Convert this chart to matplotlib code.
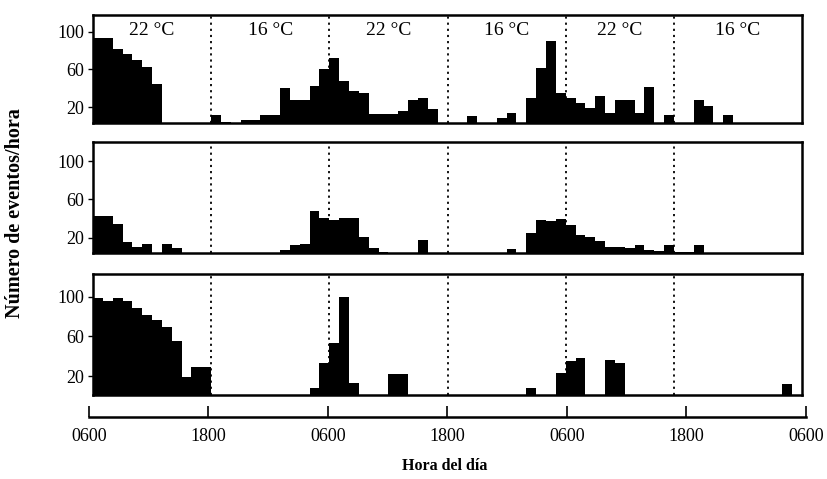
import matplotlib.pyplot as plt

plt.rcParams['font.family'] = ['Liberation Serif', 'DejaVu Serif']

# one bin per hour, starting at 0600 of day 1
hours = list(range(72))

top_counts = [93, 93, 82, 77, 70, 63, 45, 0, 0, 0, 0, 0,
              12, 4, 3, 6, 6, 12, 12, 40, 27, 28, 42, 60,
              72, 48, 37, 35, 13, 13, 13, 16, 28, 30, 18, 2,
              0, 0, 10, 3, 3, 8, 14, 3, 30, 62, 90, 35,
              30, 24, 19, 32, 14, 28, 27, 14, 41, 3, 12, 2,
              0, 27, 21, 0, 12, 0, 0, 0, 0, 0, 0, 0]

mid_counts = [43, 43, 34, 16, 10, 13, 4, 13, 9, 3, 0, 0,
              0, 0, 0, 0, 0, 0, 4, 7, 12, 13, 48, 41,
              39, 41, 41, 21, 9, 5, 4, 4, 4, 18, 0, 0,
              0, 0, 0, 0, 0, 0, 8, 4, 25, 39, 37, 40,
              33, 23, 21, 17, 10, 10, 9, 12, 7, 6, 12, 5,
              5, 12, 0, 0, 0, 0, 0, 0, 0, 0, 0, 0]

bot_counts = [99, 96, 99, 96, 89, 82, 77, 70, 55, 19, 29, 29,
              0, 0, 0, 0, 0, 0, 0, 0, 0, 0, 8, 33,
              53, 100, 13, 0, 0, 0, 22, 22, 0, 0, 0, 0,
              0, 0, 0, 0, 0, 0, 0, 0, 8, 0, 0, 23,
              35, 38, 0, 0, 36, 33, 0, 0, 0, 0, 0, 0,
              0, 0, 0, 0, 0, 0, 0, 0, 0, 0, 12, 0]

temp_labels = ['22 °C', '16 °C', '22 °C', '16 °C', '22 °C', '16 °C']
temp_changes = [12, 24, 36, 48, 59]
tick_hours = [0, 12, 24, 36, 48, 60, 72]
tick_labels = ['0600', '1800', '0600', '1800', '0600', '1800', '0600']
y_ticks = [20, 60, 100]

W, H = 828, 479
fig = plt.figure(figsize=(W / 100, H / 100), dpi=100)

# panel boxes in pixels: (top, bottom)
boxes = [(15, 123), (142, 253), (274, 395)]
left, right = 93, 802
series = [top_counts, mid_counts, bot_counts]
ylims = [(3, 118), (4, 120), (1, 123)]

for i, (counts, (t, b)) in enumerate(zip(series, boxes)):
    ax = fig.add_axes([left / W, 1 - b / H, (right - left) / W, (b - t) / H])
    ax.bar(hours, counts, width=1, align='edge', color='black', linewidth=0)
    for h in temp_changes:
        ax.axvline(h, color='black', linestyle=(0, (1.2, 2.2)), linewidth=1.3)
    ax.set_xlim(0, 72)
    ax.set_ylim(*ylims[i])
    ax.set_yticks(y_ticks)
    ax.set_xticks([])
    ax.tick_params(axis='y', direction='out', length=3.5, width=1, pad=3, labelsize=13)
    for s in ax.spines.values():
        s.set_linewidth(1.8)
    if i == 0:
        starts = [0] + temp_changes
        ends = temp_changes + [72]
        for lab, a, e in zip(temp_labels, starts, ends):
            ax.text((a + e) / 2, 0.86, lab, transform=ax.get_xaxis_transform(),
                    ha='center', va='center', fontsize=14)

# separate time axis under the panels
axx = fig.add_axes([89 / W, 1 - 417 / H, (806 - 89) / W, 0.001])
axx.set_xlim(0, 72)
axx.set_xticks(tick_hours)
axx.set_xticklabels(tick_labels)
axx.set_yticks([])
for k in ['top', 'left', 'right']:
    axx.spines[k].set_visible(False)
axx.spines['bottom'].set_linewidth(1.8)
axx.tick_params(axis='x', direction='in', length=8, width=1.2, pad=8, labelsize=13)

fig.text(445 / W, 1 - 466 / H, 'Hora del día', ha='center', va='center',
         fontsize=11.5, fontweight='bold')
fig.text(15 / W, 1 - 213 / H, 'Número de eventos/hora', ha='center', va='center',
         rotation=90, fontsize=14.5, fontweight='bold')

fig.savefig('out.png', dpi=100)
